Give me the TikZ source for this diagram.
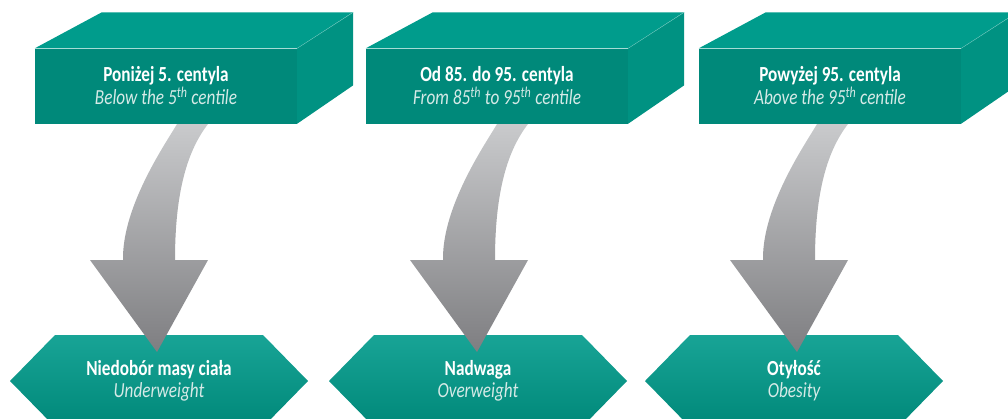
\documentclass[tikz,border=0pt]{standalone}
\usepackage{fontspec}
\setmainfont{Carlito}[FakeStretch=0.8]
\usetikzlibrary{calc}
\definecolor{tealfront}{RGB}{0,137,122}
\definecolor{tealtop}{RGB}{0,156,140}
\definecolor{tealside}{RGB}{0,146,130}
\definecolor{tealhi}{RGB}{24,164,150}
\definecolor{tealmid}{RGB}{0,155,140}
\definecolor{tealdeep}{RGB}{0,136,121}
\definecolor{greylight}{RGB}{201,202,204}
\definecolor{greydark}{RGB}{126,126,129}
\definecolor{subtext}{RGB}{214,234,231}

\begin{document}
\begin{tikzpicture}[x=1pt,y=-1pt,
   front/.style={fill=tealfront,minimum width=262pt,minimum height=75pt,inner sep=0pt,
                 align=center,text=white,font=\fontsize{21.5}{23}\selectfont},
   hexlabel/.style={align=center,text=white,font=\fontsize{21.5}{22}\selectfont},
   hexplate/.pic={\shade[top color=tealhi,middle color=tealmid,bottom color=tealdeep]
      (-149,0) -- (-104,-46) -- (104,-46) -- (149,0) -- (104,46) -- (-104,46) -- cycle;},
   bendarrow/.pic={\shade[top color=greylight,middle color=greydark,bottom color=greydark]
      (20,-228) -- (51,-228) .. controls (31,-202) and (18,-162) .. (18,-92)
      -- (51,-92) -- (0,0) -- (-67,-92) -- (-34,-92)
      .. controls (-35,-147) and (11,-212) .. (20,-228) -- cycle;}]
  \path[use as bounding box] (0,0) rectangle (1008,418);
  \clip (0,0) rectangle (1008,418);

  % result plates
  \pic at (159,381) {hexplate};
  \pic at (478,381) {hexplate};
  \pic at (794,381) {hexplate};
  \node[hexlabel] (under) at (159,381)
    {\textbf{Niedobór masy ciała}\\{\color{subtext}\itshape Underweight}};
  \node[hexlabel] (over) at (478,381)
    {\textbf{Nadwaga}\\{\color{subtext}\itshape Overweight}};
  \node[hexlabel] (obese) at (794,381)
    {\textbf{Otyłość}\\{\color{subtext}\itshape Obesity}};

  % centile blocks
  \node[front] (low) at (166,86)
    {\textbf{Poniżej 5. centyla}\\{\color{subtext}\itshape Below the 5\textsuperscript{th} centile}};
  \node[front] (mid) at (497,86)
    {\textbf{Od 85. do 95. centyla}\\{\color{subtext}\itshape From 85\textsuperscript{th} to 95\textsuperscript{th} centile}};
  \node[front] (high) at (830,86)
    {\textbf{Powyżej 95. centyla}\\{\color{subtext}\itshape Above the 95\textsuperscript{th} centile}};
  \foreach \b in {low,mid,high} {
    \fill[tealtop] (\b.north west) -- ++(67,-36) -- ++(251,0) -- (\b.north east) -- cycle;
    \fill[tealside] (\b.north east) -- ++(56,-36) -- ++(0,73) -- (\b.south east) -- cycle;
    \draw[tealtop!60!white,line width=0.4pt] (\b.north east) -- ++(56,-36);
  }

  % arrows
  \pic at ($(under.center)+(-2,-29)$) {bendarrow};
  \pic at ($(over.center)+(-1,-29)$) {bendarrow};
  \pic at ($(obese.center)+(3,-29)$) {bendarrow};
\end{tikzpicture}
\end{document}
